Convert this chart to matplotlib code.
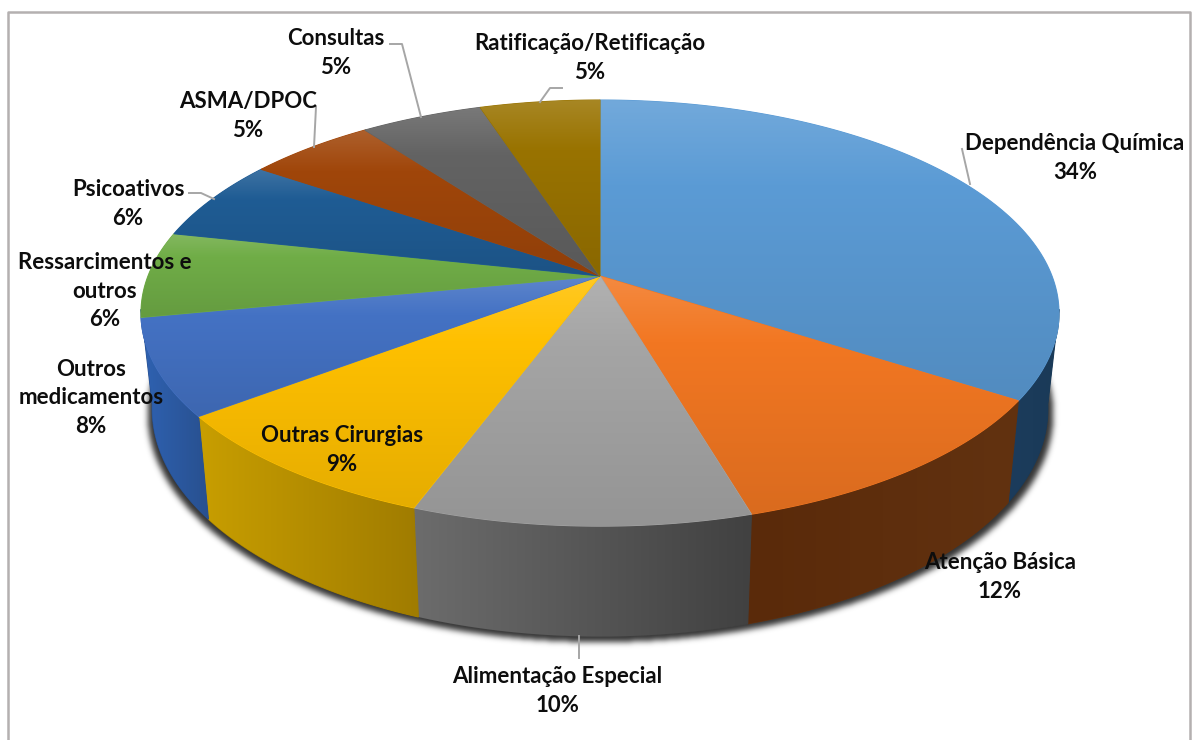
import numpy as np
import matplotlib
matplotlib.use('Agg')
import matplotlib.pyplot as plt
from matplotlib.colors import to_rgb
from matplotlib.patches import Polygon
from matplotlib.path import Path

# Chart data
categories = ['Dependência Química', 'Atenção Básica', 'Alimentação Especial', 'Outras Cirurgias',
              'Outros\nmedicamentos', 'Ressarcimentos e\noutros', 'Psicoativos', 'ASMA/DPOC',
              'Consultas', 'Ratificação/Retificação']
shares = [34.2, 11.3, 10.1, 9.0, 7.3, 6.5, 6.2, 5.3, 5.1, 5.0]
percent_labels = [34, 12, 10, 9, 8, 6, 6, 5, 5, 5]

top_colors = ['#5b9bd5', '#f27722', '#a5a5a5', '#ffc000', '#4472c4',
              '#70ad47', '#1f5c94', '#a0460a', '#636363', '#997300']
side_colors = [('#1c3c5c', '#1a3a58'), ('#5a2a0a', '#623210'), ('#6c6c6c', '#414141'),
               ('#c89e00', '#a07c00'), ('#2f62b2', '#28508f')]

# label centres and leader lines, in pixels
label_pos = [(1075, 158), (1000, 577), (557, 691), (342, 450), (91, 398),
             (105, 291), (128, 204), (248, 116), (336, 53), (590, 58)]
leaders = [[(962, 149), (970, 184)],
           [(579, 636), (579, 658)],
           [(189, 193), (201, 193), (214, 199)],
           [(316, 107), (314, 147)],
           [(390, 44), (402, 44), (421, 117)],
           [(562, 88), (550, 88), (540, 102)]]

# projection of the tilted disc
CX, CY = 600, 276
PERSP = 0.174
TOP_A, TOP_B = 206.6, 452
BASE_A, BASE_B, BASE_DROP = 221, 441, 93


def rim(deg, a, b, drop=0):
    t = np.radians(deg)
    d = 1 + PERSP * np.cos(t)
    return np.column_stack([CX + b * np.sin(t) / d, CY + drop - a * np.cos(t) / d])


def gradient_fill(ax, pts, rgba, under):
    # flat polygon underneath hides the seams, image clipped to it on top
    ax.add_patch(Polygon(pts, closed=True, fc=under, ec=under, lw=0.8, zorder=3))
    x0, y0 = pts.min(axis=0)
    x1, y1 = pts.max(axis=0)
    im = ax.imshow(rgba, extent=(x0, x1, y1, y0), aspect='auto', interpolation='bilinear', zorder=3)
    im.set_clip_path(Polygon(pts, closed=True, transform=ax.transData))


def top_gradient(color):
    c = np.array(to_rgb(color))
    t = np.linspace(0, 1, 200)[:, None]
    light = np.clip(0.14 * (1 - t / 0.28), 0, 1)
    dark = np.clip((t - 0.28) / 0.72, 0, 1) * 0.1
    g = c * (1 - light) + light
    g = g * (1 - dark)
    return g[:, None, :]


def side_gradient(c0, c1):
    t = np.linspace(0, 1, 100)[:, None]
    g = np.array(to_rgb(c0)) * (1 - t) + np.array(to_rgb(c1)) * t
    return g[None, :, :]


fig = plt.figure(figsize=(11.92, 7.4), dpi=100)
ax = fig.add_axes([0, 0, 1, 1])
ax.set_axis_off()

# frame
ax.plot([7.5, 7.5, 1190, 1190], [740, 11.5, 11.5, 740], color='#b4b0b0', lw=1.8, zorder=1)

# soft shadow under the base
angles = np.linspace(0, 360, 361)
base_path = Path(rim(angles, BASE_A, BASE_B + 5, BASE_DROP) + [0, 5])
gx, gy = np.meshgrid(np.arange(100, 1100), np.arange(150, 700))
mask = base_path.contains_points(np.column_stack([gx.ravel(), gy.ravel()])).reshape(gx.shape).astype(float)
kernel = np.exp(-0.5 * (np.arange(-10, 11) / 3.0) ** 2)
kernel /= kernel.sum()
mask = np.apply_along_axis(lambda r: np.convolve(r, kernel, mode='same'), 0, mask)
mask = np.apply_along_axis(lambda r: np.convolve(r, kernel, mode='same'), 1, mask)
shadow = np.zeros(mask.shape + (4,))
shadow[..., 3] = mask * 0.8
ax.imshow(shadow, extent=(100, 1100, 700, 150), aspect='auto', zorder=2)

# slice boundaries, clockwise from 12 o'clock
edges = np.concatenate([[0], np.cumsum(shares)]) / np.sum(shares) * 360

# sides of the front slices
for i, cols in enumerate(side_colors):
    a0 = max(edges[i], 99)
    a1 = min(edges[i + 1], 261)
    if i == 4:
        a1 = 261
    deg = np.linspace(a0, a1, 80)
    pts = np.vstack([rim(deg, TOP_A, TOP_B), rim(deg[::-1], BASE_A, BASE_B, BASE_DROP)])
    gradient_fill(ax, pts, side_gradient(*cols), cols[1])

# top surface
for i, col in enumerate(top_colors):
    deg = np.linspace(edges[i], edges[i + 1], 120)
    pts = np.vstack([[CX, CY], rim(deg, TOP_A, TOP_B)])
    gradient_fill(ax, pts, top_gradient(col), col)

for line in leaders:
    xs, ys = zip(*line)
    ax.plot(xs, ys, color='#a6a6a6', lw=1.4, zorder=4)

for name, pct, (x, y) in zip(categories, percent_labels, label_pos):
    ax.text(x, y, f'{name}\n{pct}%', ha='center', va='center', family='Lato', weight='bold',
            fontsize=16, color='#0d0d0d', linespacing=1.46, zorder=5)

ax.set_xlim(0, 1192)
ax.set_ylim(740, 0)
fig.savefig('out.png', dpi=100)
